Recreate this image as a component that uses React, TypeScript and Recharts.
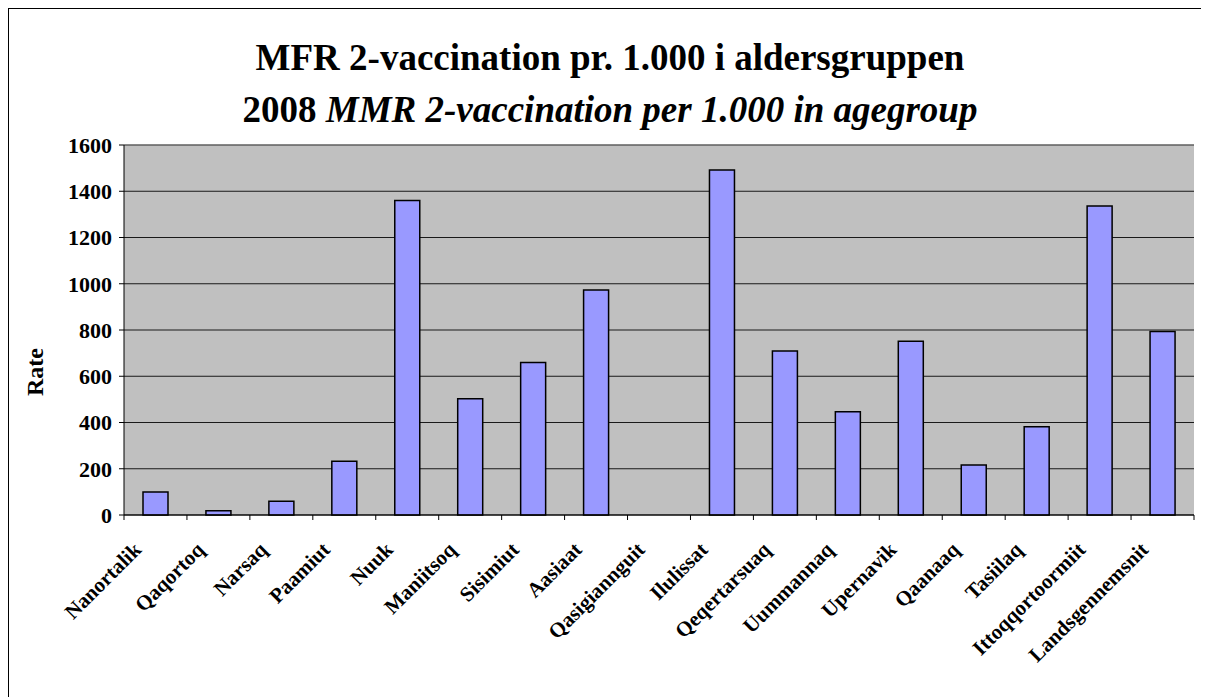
import { BarChart, Bar, XAxis, YAxis, CartesianGrid, ReferenceLine } from "recharts";

const towns = [
  "Nanortalik",
  "Qaqortoq",
  "Narsaq",
  "Paamiut",
  "Nuuk",
  "Maniitsoq",
  "Sisimiut",
  "Aasiaat",
  "Qasigiannguit",
  "Ilulissat",
  "Qeqertarsuaq",
  "Uummannaq",
  "Upernavik",
  "Qaanaaq",
  "Tasiilaq",
  "Ittoqqortoormiit",
  "Landsgennemsnit",
];

const rates = [100, 18, 60, 232, 1360, 503, 659, 973, 0, 1492, 709, 446, 751, 216, 382, 1336, 793];

const yTicks = [0, 200, 400, 600, 800, 1000, 1200, 1400, 1600];

const data = towns.map((name, i) => ({ name, pos: i + 0.5, rate: rates[i] }));

// edges between the categories get a tick mark, the centres get the label
const xTicks: number[] = [];
for (let i = 0; i <= towns.length; i++) {
  xTicks.push(i);
  if (i < towns.length) xTicks.push(i + 0.5);
}

const font = '"Liberation Serif", "Times New Roman", serif';

const XTick = ({ x, y, payload }: any) => {
  const v = payload.value;
  if (Number.isInteger(v)) {
    return <line x1={x} y1={y} x2={x} y2={y + 5} stroke="#000" strokeWidth={1} />;
  }
  const label = towns[Math.floor(v)];
  return (
    <g transform={`translate(${x - 13},${y + 36})`}>
      <text
        textAnchor="end"
        transform="rotate(-45)"
        fontFamily={font}
        fontWeight="bold"
        fontSize={21}
        fill="#000"
      >
        {label}
      </text>
    </g>
  );
};

export default function App() {
  return (
    <div
      style={{
        position: "relative",
        width: 1200,
        height: 700,
        border: "1px solid #000",
        boxSizing: "border-box",
        background: "#fff",
      }}
    >
      <BarChart
        width={1198}
        height={698}
        data={data}
        margin={{ top: 136, right: 13, bottom: 0, left: 0 }}
      >
        <CartesianGrid fill="#c0c0c0" stroke="#1a1a1a" vertical={false} />
        <XAxis xAxisId="edge"
          type="number"
          dataKey="pos"
          domain={[0, towns.length]}
          ticks={xTicks}
          interval={0}
          tickLine={false}
          tickSize={0}
          tickMargin={0}
          height={192}
          axisLine={{ stroke: "#000" }}
          tick={<XTick />}
        />
        <XAxis xAxisId="cat" dataKey="name" hide height={0} />
        <YAxis
          domain={[0, 1600]}
          ticks={yTicks}
          interval={0}
          width={115}
          tickSize={5}
          tickMargin={7}
          axisLine={{ stroke: "#000" }}
          tickLine={{ stroke: "#000" }}
          tick={{ fill: "#000", fontSize: 22, fontWeight: "bold", fontFamily: font }}
        />
        <YAxis
          yAxisId="right"
          orientation="right"
          width={0}
          tick={false}
          tickLine={false}
          axisLine={{ stroke: "#808080" }}
        />
        <ReferenceLine y={1600} xAxisId="cat" stroke="#808080" />
        <Bar
          xAxisId="cat"
          dataKey="rate"
          fill="#9999ff"
          stroke="#000"
          strokeWidth={1.5}
          barSize={25}
          isAnimationActive={false}
        />
      </BarChart>
      <svg
        width={1198}
        height={698}
        style={{ position: "absolute", left: 0, top: 0, pointerEvents: "none" }}
      >
        <text x={601} y={61} textAnchor="middle" fontFamily={font} fontWeight="bold" fontSize={37}>
          MFR 2-vaccination pr. 1.000 i aldersgruppen
        </text>
        <text x={601} y={113} textAnchor="middle" fontFamily={font} fontWeight="bold" fontSize={37}>
          2008 <tspan fontStyle="italic">MMR 2-vaccination per 1.000 in agegroup</tspan>
        </text>
        <text
          transform="translate(34,363) rotate(-90)"
          textAnchor="middle"
          fontFamily={font}
          fontWeight="bold"
          fontSize={24}
        >
          Rate
        </text>
      </svg>
    </div>
  );
}
